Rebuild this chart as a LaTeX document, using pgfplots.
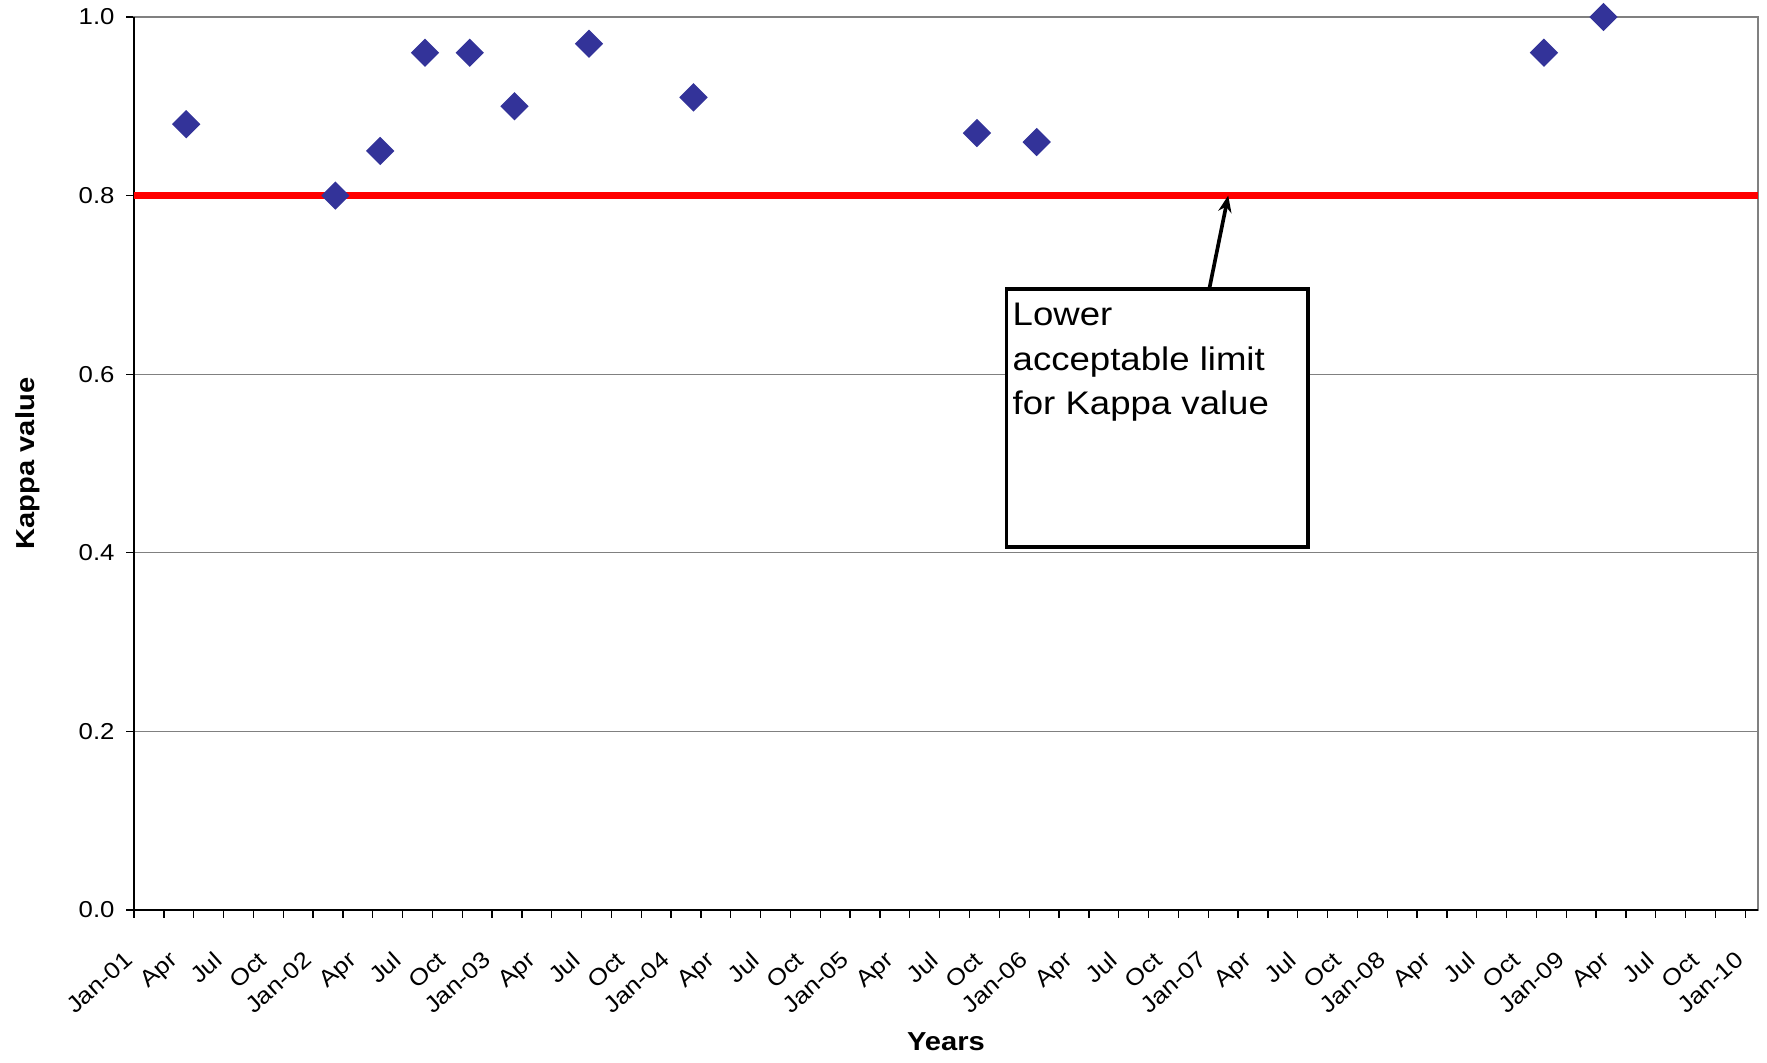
\documentclass[border=0pt]{standalone}
\usepackage{pgfplots}
\pgfplotsset{compat=1.18}
\usepackage{fontspec}
\setmainfont{Liberation Sans}[FakeStretch=1.12]
\usetikzlibrary{arrows.meta,calc}
\definecolor{markblue}{RGB}{51,51,153}
\definecolor{gridgray}{RGB}{128,128,128}
\begin{document}
\begin{tikzpicture}
\begin{axis}[
  scale only axis,
  width=487.2pt, height=267.9pt,
  xmin=0, xmax=108.85, ymin=0, ymax=1,
  xtick={0,2,...,108},
  xticklabel={\phantom{0}},
  extra x ticks={0,3,...,108},
  extra x tick labels={Jan-01,Apr,Jul,Oct,Jan-02,Apr,Jul,Oct,Jan-03,Apr,Jul,Oct,Jan-04,Apr,Jul,Oct,Jan-05,Apr,Jul,Oct,Jan-06,Apr,Jul,Oct,Jan-07,Apr,Jul,Oct,Jan-08,Apr,Jul,Oct,Jan-09,Apr,Jul,Oct,Jan-10},
  extra x tick style={tick style={draw=none}},
  ytick={0,0.2,0.4,0.6,0.8,1.0},
  yticklabel style={/pgf/number format/fixed,/pgf/number format/fixed zerofill,/pgf/number format/precision=1},
  /pgf/number format/assume math mode=true,
  tick label style={font=\fontsize{6.9}{8}\selectfont},
  xticklabel style={xshift=-3pt, yshift=-4.8pt, rotate=42, anchor=north east},
  tick align=outside,
  major tick length=2.3pt,
  tick style={black, line width=0.4pt},
  xtick pos=bottom, ytick pos=left,
  ymajorgrids,
  grid style={gridgray, line width=0.4pt},
  axis line style={gridgray, line width=0.6pt},
  clip=false,
  xlabel={Years},
  ylabel={Kappa value},
  xlabel style={font=\fontsize{7.8}{9}\selectfont\bfseries, at={(axis description cs:0.5,0)}, anchor=center, yshift=-39.6pt},
  ylabel style={font=\fontsize{7.8}{9}\selectfont\bfseries, at={(axis description cs:-0.0657,0.5)}, anchor=center},
]
\draw[black, line width=0.6pt] (rel axis cs:0,1) -- (rel axis cs:0,0) -- (rel axis cs:1,0);
\addplot[red, line width=2.1pt, forget plot] coordinates {(0,0.8) (108.85,0.8)};
\addplot[only marks, mark=square*, mark size=2.8pt, mark options={rotate=45, fill=markblue, draw=markblue}] coordinates {
(3.5,0.88)
(13.5,0.80)
(16.5,0.85)
(19.5,0.96)
(22.5,0.96)
(25.5,0.90)
(30.5,0.97)
(37.5,0.91)
(56.5,0.87)
(60.5,0.86)
(94.5,0.96)
(98.5,1.00)
};
\draw[black, line width=1pt, fill=white] (axis cs:58.5,0.4065) rectangle (axis cs:78.69,0.6954);
\node[anchor=base west, inner sep=0pt, font=\fontsize{9.8}{12}\selectfont] at (axis cs:58.85,0.6543) {Lower};
\node[anchor=base west, inner sep=0pt, font=\fontsize{9.8}{12}\selectfont] at (axis cs:58.85,0.6047) {acceptable limit};
\node[anchor=base west, inner sep=0pt, font=\fontsize{9.8}{12}\selectfont] at (axis cs:58.85,0.5554) {for Kappa value};
\draw[black, line width=1.1pt, -{Stealth[length=5pt,width=4pt]}] (axis cs:72.07,0.6954) -- (axis cs:73.34,0.80);
\end{axis}
\pgfresetboundingbox
\path ($(current axis.south west)+(-40.2pt,-45.6pt)$) rectangle ($(current axis.north east)+(2.7pt,5.1pt)$);
\end{tikzpicture}
\end{document}
